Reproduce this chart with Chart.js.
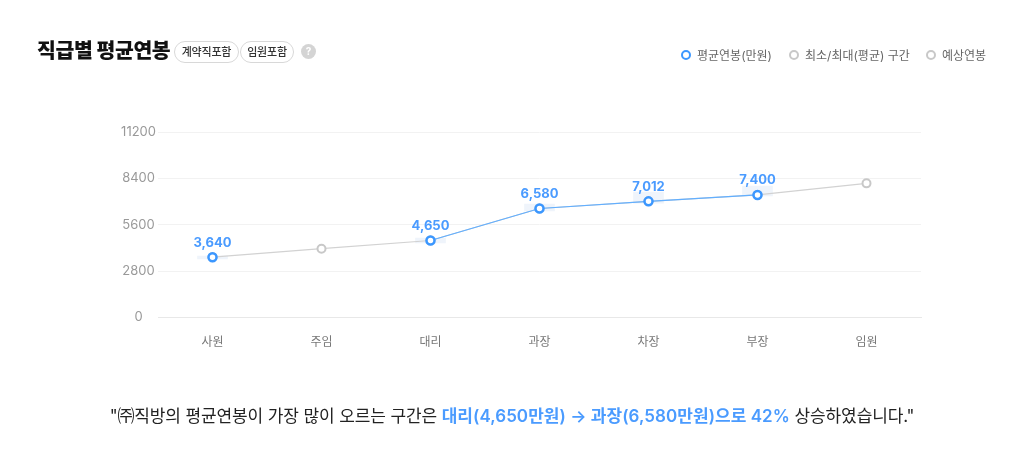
<!DOCTYPE html>
<html lang="ko">
<head>
<meta charset="utf-8">
<title>직급별 평균연봉</title>
<script src="https://cdn.jsdelivr.net/npm/chart.js@4/dist/chart.umd.js"></script>
<style>
	html, body { margin: 0; padding: 0; background: #fff; }
	body { width: 1024px; height: 465px; position: relative; overflow: hidden; font-family: Inter, "Noto Sans CJK KR", sans-serif; }
	.title { position: absolute; left: 37px; top: 37px; font-size: 20.5px; line-height: 28px; font-weight: 800; color: #111; letter-spacing: -0.4px; white-space: nowrap; }
	.pill { position: absolute; top: 41px; height: 22px; line-height: 20px; box-sizing: border-box; border: 1px solid #d8d8d8; border-radius: 11px; font-size: 11px; font-weight: 500; color: #333; text-align: center; letter-spacing: -0.2px; }
	.help { position: absolute; left: 301px; top: 44px; width: 15px; height: 15px; border-radius: 50%; background: #d4d4d4; color: #fff; font-size: 10px; font-weight: 700; line-height: 15px; text-align: center; }
	.legend { position: absolute; top: 48px; height: 16px; line-height: 16px; font-size: 12px; color: #666; white-space: nowrap; }
	.legend i { position: absolute; left: 0; top: 2px; width: 10px; height: 10px; box-sizing: border-box; border-radius: 50%; border: 2px solid #c8c8c8; }
	.legend span { margin-left: 16px; }
	.note { position: absolute; left: 0; width: 1024px; top: 403px; line-height: 26px; font-size: 17px; color: #222; text-align: center; white-space: nowrap; letter-spacing: -0.12px; }
	.note b { color: #4a9bff; font-weight: 600; letter-spacing: 0.05px; }
	#chart { position: absolute; left: 0; top: 0; }
</style>
</head>
<body>
<canvas id="chart" width="1024" height="465"></canvas>
<div class="title">직급별 평균연봉</div>
<div class="pill" style="left:174px;width:65px">계약직포함</div>
<div class="pill" style="left:240px;width:54px">임원포함</div>
<div class="help">?</div>
<div class="legend" style="left:681px"><i style="border-color:#3b97ff"></i><span>평균연봉(만원)</span></div>
<div class="legend" style="left:789px"><i></i><span>최소/최대(평균) 구간</span></div>
<div class="legend" style="left:926px"><i></i><span>예상연봉</span></div>
<div class="note">"㈜직방의 평균연봉이 가장 많이 오르는 구간은 <b>대리(4,650만원) → 과장(6,580만원)으로 42%</b> 상승하였습니다."</div>
<script>
	var categories = ['사원', '주임', '대리', '과장', '차장', '부장', '임원'];
	var yTicks = [0, 2800, 5600, 8400, 11200];
	var allPay = [3640, 4155, 4650, 6580, 7012, 7400, 8100];
	var actualPay = [3640, null, 4650, 6580, 7012, 7400, null];
	var rangeLow = [3530, null, 4500, 6430, 6910, 7340, null];
	var rangeHigh = [3710, null, 4800, 6850, 7580, 7940, null];

	var blue = '#3b97ff', gray = '#c8c8c8';
	var fontFamily = 'Inter, "Noto Sans CJK KR", sans-serif';

	/*Value labels above the blue points*/
	var valueLabels = {
		id: 'valueLabels',
		afterDatasetsDraw: function(chart){
			var ctx = chart.ctx, meta = chart.getDatasetMeta(1), i;
			ctx.save();
			ctx.font = '700 13px ' + fontFamily;
			ctx.fillStyle = '#4a9bff';
			ctx.textAlign = 'center';
			ctx.textBaseline = 'bottom';
			for(i = 0; i < actualPay.length; i++){
				if(actualPay[i] !== null){
					ctx.fillText(actualPay[i].toLocaleString('en-US'), meta.data[i].x, meta.data[i].y - 8);
				}
			}
			ctx.restore();
		}
	};

	new Chart(document.getElementById('chart'), {
		data: {
			labels: categories,
			datasets: [{
				type: 'line',
				order: 2,
				data: allPay,
				borderColor: '#d2d2d2',
				borderWidth: 1.2,
				tension: 0,
				pointRadius: 4,
				pointBorderWidth: 2,
				pointBackgroundColor: '#fff',
				pointBorderColor: gray
			}, {
				type: 'line',
				order: 1,
				data: actualPay,
				spanGaps: false,
				borderColor: '#62afff',
				borderWidth: 1.2,
				tension: 0,
				pointRadius: 4,
				pointBorderWidth: 2.5,
				pointBackgroundColor: '#fff',
				pointBorderColor: blue
			}, {
				type: 'bar',
				order: 3,
				data: rangeLow.map(function(low, i){ return low === null ? null : [low, rangeHigh[i]]; }),
				backgroundColor: '#eff4fb',
				barThickness: 30
			}]
		},
		options: {
			responsive: false,
			animation: false,
			layout: { padding: { left: 0, right: 103, top: 132, bottom: 0 } },
			plugins: { legend: { display: false }, tooltip: { enabled: false } },
			scales: {
				x: {
					afterFit: function(axis){ axis.height = 147.5; },
					grid: { display: false },
					border: { color: '#e8e8e8' },
					ticks: { color: '#777', padding: 10, maxRotation: 0, font: { size: 12, family: fontFamily } }
				},
				y: {
					min: 0,
					max: 11200,
					afterFit: function(axis){ axis.width = 158; },
					afterBuildTicks: function(axis){
						axis.ticks = yTicks.map(function(v){ return { value: v }; });
					},
					grid: { color: '#f2f2f2', drawTicks: false },
					border: { display: false },
					ticks: {
						color: '#999',
						padding: 2,
						crossAlign: 'center',
						font: { size: 13, family: fontFamily },
						callback: function(value){ return String(value); }
					}
				}
			}
		},
		plugins: [valueLabels]
	});
</script>
</body>
</html>
